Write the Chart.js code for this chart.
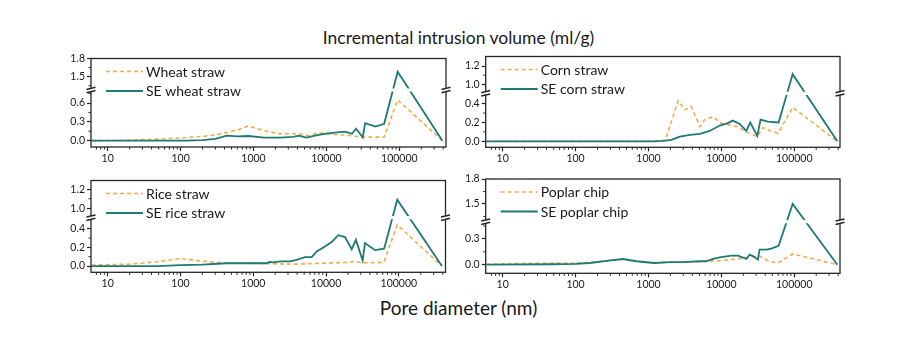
<!DOCTYPE html>
<html><head><meta charset="utf-8">
<script src="https://cdn.jsdelivr.net/npm/chart.js@4.4.0/dist/chart.umd.min.js"></script>
<style>
html,body{margin:0;padding:0;background:#fff;}
body{width:917px;height:338px;overflow:hidden;position:relative;font-family:Lato,"Open Sans",sans-serif;color:#1a1a1a;}
canvas{position:absolute;}
.ttl{position:absolute;left:0;width:917px;text-align:center;white-space:nowrap;line-height:1.2;}
#t1{top:27px;font-size:17.5px;}
#t2{top:297px;font-size:19px;}
</style></head>
<body>
<div class="ttl" id="t1">Incremental intrusion volume (ml/g)</div>
<div class="ttl" id="t2">Pore diameter (nm)</div>
<canvas id="c1"></canvas><canvas id="c2"></canvas><canvas id="c3"></canvas><canvas id="c4"></canvas>
<script>
// ---- data (pore diameter in nm, incremental intrusion in ml/g) ----
const wheatD   = [6, 10, 20, 40, 70, 120, 200, 300, 430, 600, 850, 1400, 2300, 3500, 4200, 5300, 7500, 9500, 13000, 18000, 22500, 25500, 31500, 34000, 47000, 62000, 95000, 390000];
const wheat    = [0, 0, 0.01, 0.02, 0.035, 0.05, 0.07, 0.09, 0.13, 0.17, 0.235, 0.16, 0.11, 0.11, 0.11, 0.08, 0.12, 0.12, 0.1, 0.09, 0.08, 0.07, 0.055, 0.06, 0.055, 0.06, 0.65, 0];
const seWheatD = [6, 10, 20, 40, 70, 120, 200, 300, 430, 600, 850, 1400, 2300, 3500, 4200, 5300, 7500, 9500, 13000, 18000, 22500, 25500, 31500, 34000, 47000, 62000, 95000, 390000];
const seWheat  = [0, 0, 0, 0, 0, 0, 0.01, 0.03, 0.08, 0.07, 0.075, 0.05, 0.05, 0.06, 0.08, 0.05, 0.09, 0.11, 0.13, 0.145, 0.11, 0.19, 0.055, 0.28, 0.225, 0.27, 1.58, 0];

const cornD    = [6, 1000, 1700, 2550, 3150, 3850, 5100, 5900, 7700, 10000, 16000, 22000, 31000, 37000, 47000, 60000, 95000, 390000];
const corn     = [0, 0, 0.01, 0.43, 0.335, 0.37, 0.156, 0.23, 0.26, 0.19, 0.16, 0.1, 0.05, 0.146, 0.11, 0.086, 0.36, 0];
const seCornD  = [6, 800, 1200, 1600, 2070, 2690, 3700, 5070, 6900, 9500, 12000, 14400, 17800, 22000, 24900, 31100, 34500, 43500, 61000, 95000, 390000];
const seCorn   = [0, 0, 0, 0.005, 0.015, 0.05, 0.068, 0.078, 0.11, 0.167, 0.19, 0.22, 0.185, 0.11, 0.2, 0.057, 0.23, 0.21, 0.2, 1.11, 0];

const riceD    = [6, 20, 47, 100, 160, 430, 900, 1500, 4000, 21000, 25000, 31000, 47000, 62000, 95000, 390000];
const rice     = [0.01, 0.02, 0.045, 0.08, 0.06, 0.03, 0.03, 0.025, 0.02, 0.04, 0.05, 0.035, 0.035, 0.04, 0.44, 0];
const seRiceD  = [6, 47, 100, 200, 430, 1100, 1500, 1700, 1880, 2350, 3200, 3940, 5130, 6340, 7430, 9660, 11900, 14700, 18200, 22500, 25700, 31800, 34200, 47000, 62800, 95000, 390000];
const seRice   = [0, 0, 0.01, 0.015, 0.03, 0.03, 0.03, 0.045, 0.04, 0.05, 0.05, 0.067, 0.096, 0.096, 0.157, 0.21, 0.257, 0.33, 0.31, 0.18, 0.28, 0.06, 0.246, 0.17, 0.185, 1.09, 0];

const poplarD   = [6, 20, 100, 157, 265, 447, 680, 1200, 2000, 3000, 5000, 9500, 18000, 24400, 33400, 45000, 60000, 95000, 390000];
const poplar    = [0.005, 0.015, 0.02, 0.025, 0.045, 0.066, 0.04, 0.02, 0.03, 0.03, 0.035, 0.047, 0.07, 0.086, 0.1, 0.04, 0.02, 0.125, 0];
const sePoplarD = [6, 50, 100, 157, 265, 447, 680, 1200, 2000, 3000, 5000, 6220, 7680, 9500, 13700, 16900, 22000, 24400, 27100, 31700, 33400, 41300, 48300, 61000, 95000, 390000];
const sePoplar  = [0, 0.005, 0.01, 0.02, 0.045, 0.066, 0.04, 0.02, 0.03, 0.03, 0.04, 0.04, 0.067, 0.086, 0.105, 0.105, 0.067, 0.117, 0.1, 0.06, 0.175, 0.175, 0.187, 0.22, 1.5, 0];

// series names
const wheatNames  = ['Wheat straw', 'SE wheat straw'];
const cornNames   = ['Corn straw', 'SE corn straw'];
const riceNames   = ['Rice straw', 'SE rice straw'];
const poplarNames = ['Poplar chip', 'SE poplar chip'];

// y axis ranges: [min, lower-segment max, upper-segment min, max]
const wheatY  = [-0.1, 0.807, 1.28, 1.8];
const cornY   = [-0.064, 0.51, 0.9, 1.305];
const riceY   = [-0.067, 0.517, 0.9, 1.293];
const poplarY = [-0.1, 0.5, 1.287, 1.8];
// y tick steps: [minor, labelled]
const wheatSteps = [0.15, 0.3], cornSteps = [0.1, 0.2], riceSteps = [0.1, 0.2], poplarSteps = [0.15, 0.3];
const xRangeL = [5.9, 437000], xRangeR = [5.85, 424000];

// ---- broken linear scale (two linear segments separated by a break) ----
class BrokenScale extends Chart.LinearScale {
  breakPixel(){ return this.bottom - this.height * this.options.brk.frac; }
  getPixelForValue(value){
    const b = this.options.brk, yb = this.breakPixel();
    if (value < (b.lowMax + b.highMin) / 2)
      return this.bottom + (value - this.min) / (b.lowMax - this.min) * (yb - this.bottom);
    return yb + (value - b.highMin) / (this.max - b.highMin) * (this.top - yb);
  }
  getValueForPixel(pixel){
    const b = this.options.brk, yb = this.breakPixel();
    if (pixel >= yb) return this.min + (pixel - this.bottom) / (yb - this.bottom) * (b.lowMax - this.min);
    return b.highMin + (pixel - yb) / (this.top - yb) * (this.max - b.highMin);
  }
  buildTicks(){
    const b = this.options.brk, st = b.step, ticks = [];
    for (let k = Math.ceil(this.min / st - 1e-9); k * st <= b.lowMax + 1e-9; k++) ticks.push({value: k * st});
    for (let k = Math.ceil(b.highMin / st - 1e-9); k * st <= this.max + 1e-9; k++) ticks.push({value: k * st});
    this.start = this.min; this.end = this.max;
    return ticks;
  }
}
BrokenScale.id = 'broken';
BrokenScale.defaults = Chart.LinearScale.defaults;
Chart.register(BrokenScale);

// ---- layout / style ----
const DASH_COLOR = '#efac4a', SE_COLOR = '#1e7a72', AX = '#262626';
const FONT = 'Lato, "Open Sans", sans-serif';

const panels = [
  {id:'c1', box:{l:91, t:58.5, r:446, b:147},      brk:90,    x:xRangeL, y:wheatY,  st:wheatSteps,  names:wheatNames,  a:[wheatD, wheat],   s:[seWheatD, seWheat]},
  {id:'c2', box:{l:485.7, t:56.5, r:840, b:147.3}, brk:93.3,  x:xRangeR, y:cornY,   st:cornSteps,   names:cornNames,   a:[cornD, corn],     s:[seCornD, seCorn]},
  {id:'c3', box:{l:91, t:180.5, r:445.5, b:272.3}, brk:217.7, x:xRangeL, y:riceY,   st:riceSteps,   names:riceNames,   a:[riceD, rice],     s:[seRiceD, seRice]},
  {id:'c4', box:{l:485.7, t:179, r:840, b:273.3},  brk:221.7, x:xRangeR, y:poplarY, st:poplarSteps, names:poplarNames, a:[poplarD, poplar], s:[sePoplarD, sePoplar]}
];

const YW = 40, XH = 20, GAP = 1.6;

function pts(xs, ys){ return xs.map((x, i) => ({x: x, y: ys[i]})); }
function isMult(v, step){ const q = v / step; return Math.abs(q - Math.round(q)) < 1e-6; }
function isPow10(v){ const l = Math.log10(v); return Math.abs(l - Math.round(l)) < 1e-9; }

const deco = {
  id: 'deco',
  beforeDatasetsDraw(chart){
    const a = chart.chartArea, yb = chart.scales.y.breakPixel(), ctx = chart.ctx;
    ctx.save();
    ctx.beginPath();
    ctx.rect(a.left - 2, a.top - 5, a.right - a.left + 4, yb - GAP - a.top + 5);
    ctx.rect(a.left - 2, yb + GAP, a.right - a.left + 4, a.bottom + 5 - yb - GAP);
    ctx.clip();
  },
  afterDatasetsDraw(chart){ chart.ctx.restore(); },
  afterDraw(chart){
    const ctx = chart.ctx, a = chart.chartArea;
    ctx.save();
    ctx.strokeStyle = AX;
    ctx.lineWidth = 1;
    // minor ticks x
    const xs = chart.scales.x;
    xs.ticks.forEach(t => {
      const v = t.value, m = v / Math.pow(10, Math.floor(Math.log10(v) + 1e-9));
      if (Math.abs(m - Math.round(m)) > 1e-6 || Math.round(m) === 1) return;
      const px = xs.getPixelForValue(v);
      if (px < a.left + 1 || px > a.right - 1) return;
      ctx.beginPath(); ctx.moveTo(px, a.bottom); ctx.lineTo(px, a.bottom + 2.5); ctx.stroke();
    });
    // minor ticks y
    const s = chart.scales.y, yb = s.breakPixel();
    s.ticks.forEach(t => {
      if (t.label !== '') return;
      const py = s.getPixelForValue(t.value);
      if (py < a.top + 2 || py > a.bottom - 2 || Math.abs(py - yb) < 3) return;
      ctx.beginPath(); ctx.moveTo(a.left - 2.5, py); ctx.lineTo(a.left, py); ctx.stroke();
    });
    // frame
    ctx.lineWidth = 1.3;
    ctx.strokeRect(a.left, a.top, a.right - a.left, a.bottom - a.top);
    // break marks
    [a.left, a.right].forEach(x => {
      ctx.fillStyle = '#fff';
      ctx.fillRect(x - 2, yb - 1.6, 4, 3.2);
      ctx.lineWidth = 1.5;
      ctx.beginPath();
      ctx.moveTo(x - 4.5, yb - 0.6); ctx.lineTo(x + 4.5, yb - 2.8);
      ctx.moveTo(x - 4.5, yb + 2.8); ctx.lineTo(x + 4.5, yb + 0.6);
      ctx.stroke();
    });
    // legend
    const ds = chart.data.datasets;
    ctx.font = '14px ' + FONT;
    ctx.textBaseline = 'middle';
    ctx.textAlign = 'left';
    [ds[1], ds[0]].forEach((d, i) => {
      const y = a.top + 13 + i * 19.5;
      const x0 = a.left + 15;
      ctx.strokeStyle = d.borderColor;
      ctx.lineWidth = d.borderWidth;
      ctx.setLineDash(d.borderDash || []);
      ctx.beginPath(); ctx.moveTo(x0, y); ctx.lineTo(x0 + 37, y); ctx.stroke();
      ctx.setLineDash([]);
      ctx.fillStyle = '#1a1a1a';
      ctx.fillText(d.label, x0 + 40, y + 0.5);
    });
    ctx.restore();
  }
};

panels.forEach(p => {
  const b = p.box;
  const cl = Math.floor(b.l) - 50, ct = Math.floor(b.t) - 9;
  const cw = Math.ceil(b.r) + 16 - cl, ch = Math.ceil(b.b) + 25 - ct;
  const cv = document.getElementById(p.id);
  cv.width = cw; cv.height = ch;
  cv.style.left = cl + 'px'; cv.style.top = ct + 'px';
  cv.style.width = cw + 'px'; cv.style.height = ch + 'px';
  const pad = {left: b.l - YW - cl, top: b.t - ct, right: cl + cw - b.r, bottom: ct + ch - b.b - XH};
  new Chart(cv, {
    type: 'line',
    data: {datasets: [
      {label: p.names[1], data: pts(p.s[0], p.s[1]), borderColor: SE_COLOR, borderWidth: 1.8,
       pointRadius: 0, tension: 0, fill: false},
      {label: p.names[0], data: pts(p.a[0], p.a[1]), borderColor: DASH_COLOR, borderWidth: 1.6, borderDash: [4, 3],
       pointRadius: 0, tension: 0, fill: false}
    ]},
    options: {
      responsive: false, animation: false, devicePixelRatio: 1,
      layout: {padding: pad},
      plugins: {legend: {display: false}, tooltip: {enabled: false}, title: {display: false}},
      scales: {
        x: {type: 'logarithmic', position: 'bottom', min: p.x[0], max: p.x[1],
            border: {display: false},
            grid: {drawOnChartArea: false, drawTicks: true, tickLength: 4, tickWidth: 1.2,
                   tickColor: c => (c.tick && isPow10(c.tick.value)) ? AX : 'rgba(0,0,0,0)'},
            ticks: {autoSkip: false, maxRotation: 0, minRotation: 0, padding: 1,
                    color: '#1a1a1a', font: {family: FONT, size: 10.5},
                    callback: v => isPow10(v) ? String(Math.round(v)) : ''},
            afterFit: s => { s.height = XH; }},
        y: {type: 'broken', position: 'left', min: p.y[0], max: p.y[3],
            brk: {lowMax: p.y[1], highMin: p.y[2], frac: (b.b - p.brk) / (b.b - b.t), step: p.st[0]},
            border: {display: false},
            grid: {drawOnChartArea: false, drawTicks: true, tickLength: 4, tickWidth: 1.2,
                   tickColor: c => (c.tick && c.tick.label !== '') ? AX : 'rgba(0,0,0,0)'},
            ticks: {autoSkip: false, padding: 2, color: '#1a1a1a', font: {family: FONT, size: 10.5},
                    callback: v => isMult(v, p.st[1]) ? (Math.abs(v) < 1e-9 ? 0 : v).toFixed(1) : ''},
            afterFit: s => { s.width = YW; }}
      }
    },
    plugins: [deco]
  });
});
</script>
</body></html>
